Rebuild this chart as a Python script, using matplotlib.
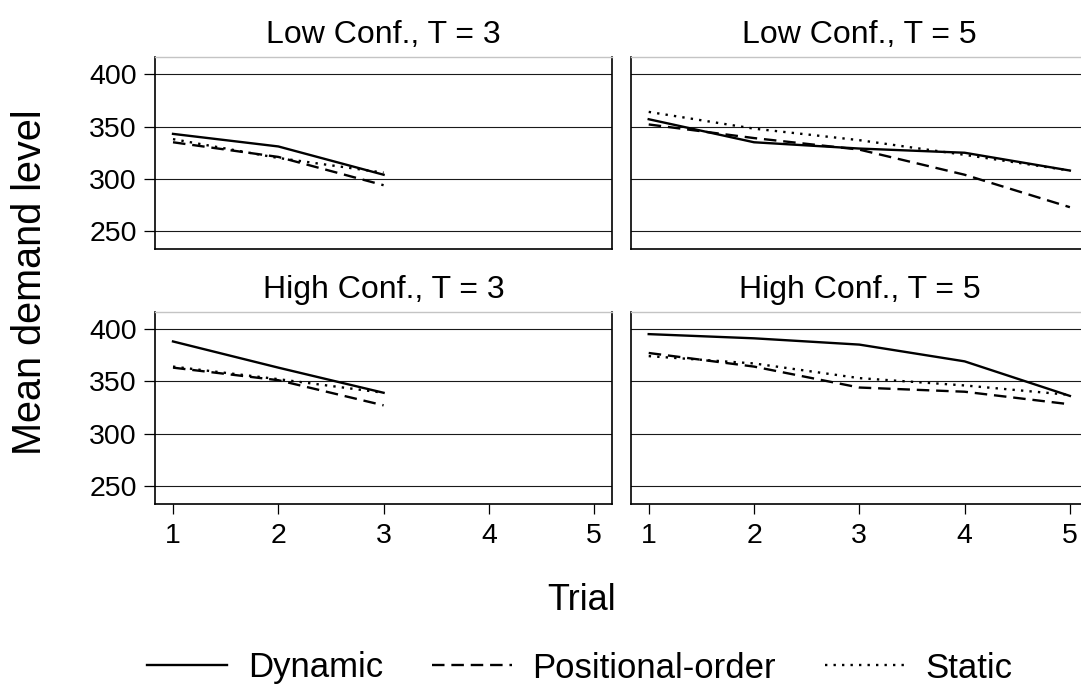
import matplotlib
matplotlib.use("Agg")
import matplotlib.pyplot as plt
from matplotlib.lines import Line2D

plt.rcParams['font.family'] = ['Liberation Sans', 'DejaVu Sans']

# data
trials_t3 = [1, 2, 3]
trials_t5 = [1, 2, 3, 4, 5]

low_t3_dynamic = [343, 331, 304]
low_t3_positional = [335, 321, 294]
low_t3_static = [338, 320, 306]

low_t5_dynamic = [357, 335, 329, 325, 308]
low_t5_positional = [352, 339, 328, 304, 273]
low_t5_static = [364, 348, 337, 323, 308]

high_t3_dynamic = [388, 363, 339]
high_t3_positional = [363, 351, 327]
high_t3_static = [364, 352, 339]

high_t5_dynamic = [395, 391, 385, 369, 336]
high_t5_positional = [377, 364, 344, 340, 328]
high_t5_static = [374, 367, 353, 346, 337]

panel_titles = ['Low Conf., T = 3', 'Low Conf., T = 5',
                'High Conf., T = 3', 'High Conf., T = 5']
series_names = ['Dynamic', 'Positional-order', 'Static']
y_ticks = [250, 300, 350, 400]
x_ticks = [1, 2, 3, 4, 5]

LW = 1.7
styles = {
    'Dynamic': dict(ls='-', zorder=4),
    'Positional-order': dict(ls=(0, (5.3, 2.9)), zorder=3),
    'Static': dict(ls=(0, (1.0, 2.6)), zorder=3),
}

panels = [
    (trials_t3, [low_t3_dynamic, low_t3_positional, low_t3_static]),
    (trials_t5, [low_t5_dynamic, low_t5_positional, low_t5_static]),
    (trials_t3, [high_t3_dynamic, high_t3_positional, high_t3_static]),
    (trials_t5, [high_t5_dynamic, high_t5_positional, high_t5_static]),
]

fig = plt.figure(figsize=(10.81, 6.96), dpi=100)

W, H = 1081.0, 696.0
lefts = [155 / W, 630.7 / W]
width = 457.3 / W
bottoms = [1 - 249.3 / H, 1 - 504 / H]
height = 192.5 / H

for i, (title, (xs, ys_list)) in enumerate(zip(panel_titles, panels)):
    row, col = divmod(i, 2)
    ax = fig.add_axes([lefts[col], bottoms[row], width, height])
    for name, ys in zip(series_names, ys_list):
        ax.plot(xs, ys, color='black', lw=LW, label=name, **styles[name])

    ax.set_xlim(0.829, 5.172)
    ax.set_ylim(232.8, 416.6)
    ax.set_yticks(y_ticks)
    ax.set_xticks(x_ticks)
    for y in y_ticks:
        ax.axhline(y, color='#1a1a1a', lw=0.8, zorder=1)

    for s in ['left', 'right', 'bottom']:
        ax.spines[s].set_color('black')
        ax.spines[s].set_linewidth(1.2)
    ax.spines['top'].set_color('#c4c4c4')
    ax.spines['top'].set_linewidth(1.0)

    ax.tick_params(axis='y', direction='out', length=8, width=0.9,
                   labelsize=20.5, pad=5, left=(col == 0), labelleft=(col == 0))
    ax.tick_params(axis='x', direction='out', length=7.5, width=0.9,
                   labelsize=20.5, pad=6, bottom=(row == 1), labelbottom=(row == 1))

    ax.set_title(title, fontsize=23, pad=10)

fig.text(30 / W, 1 - 282 / H, 'Mean demand level', rotation=90,
         ha='center', va='center', fontsize=28.5)
fig.text(582 / W, 1 - 600 / H, 'Trial', ha='center', va='center', fontsize=26)

handles = [Line2D([], [], color='black', lw=LW, ls=styles[n]['ls']) for n in series_names]
fig.legend(handles, series_names, loc='center', bbox_to_anchor=(580 / W, 1 - 668 / H),
           ncol=3, frameon=False, fontsize=25, handlelength=2.3, handletextpad=0.6,
           columnspacing=1.4)

fig.savefig('out.png', dpi=100)
